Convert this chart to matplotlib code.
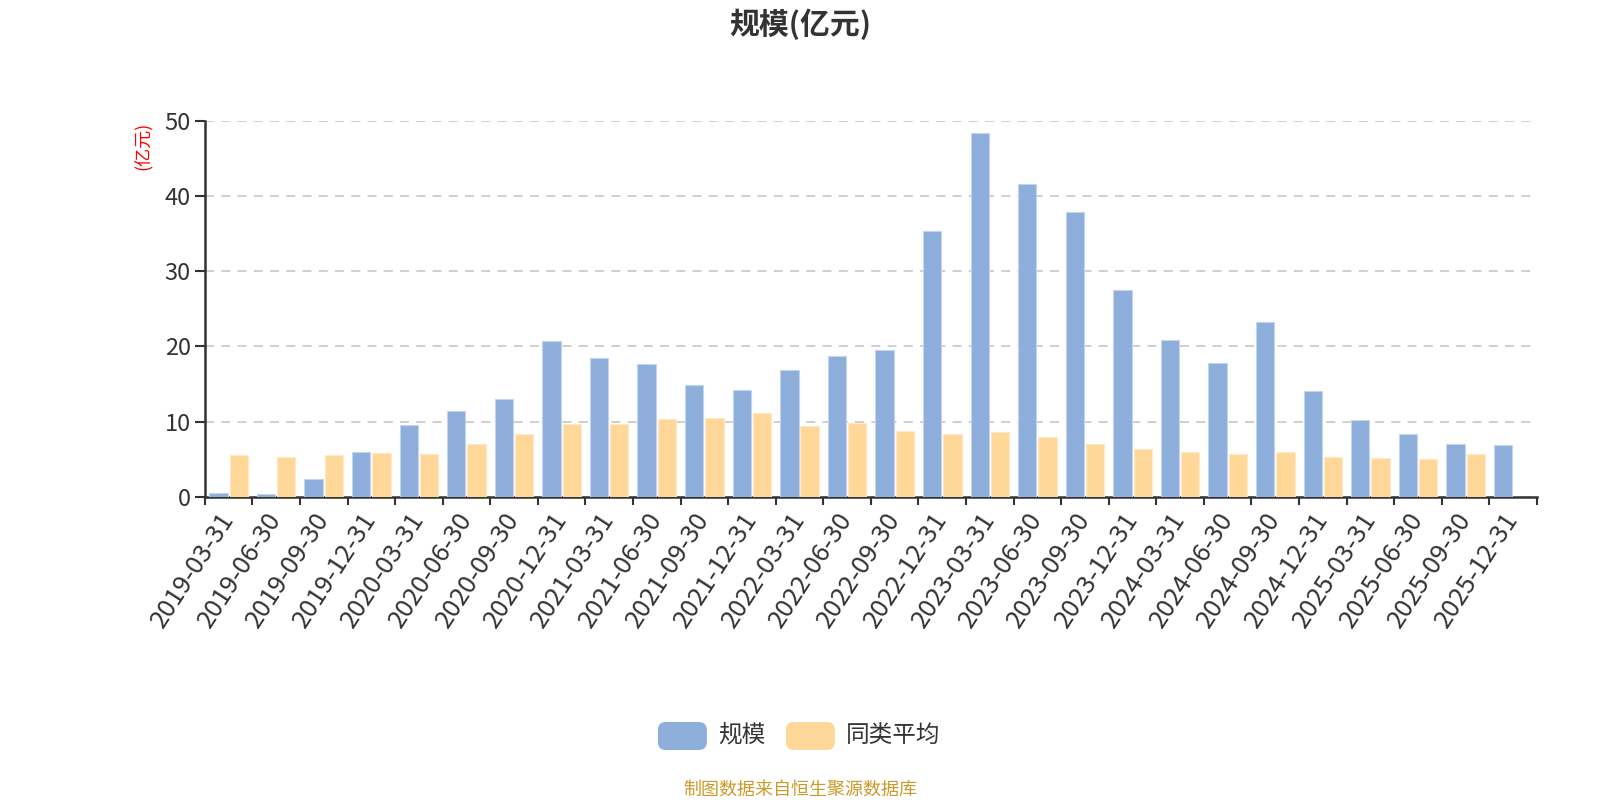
import numpy as np
import matplotlib
matplotlib.use("Agg")
import matplotlib.pyplot as plt
from matplotlib.patches import FancyBboxPatch

plt.rcParams['font.family'] = ['Noto Sans CJK SC', 'DejaVu Sans']

# data
dates = ['2019-03-31', '2019-06-30', '2019-09-30', '2019-12-31',
         '2020-03-31', '2020-06-30', '2020-09-30', '2020-12-31',
         '2021-03-31', '2021-06-30', '2021-09-30', '2021-12-31',
         '2022-03-31', '2022-06-30', '2022-09-30', '2022-12-31',
         '2023-03-31', '2023-06-30', '2023-09-30', '2023-12-31',
         '2024-03-31', '2024-06-30', '2024-09-30', '2024-12-31',
         '2025-03-31', '2025-06-30', '2025-09-30', '2025-12-31']
scale = [0.5, 0.4, 2.4, 6.0, 9.5, 11.4, 13.0, 20.7, 18.4, 17.6, 14.9, 14.2,
         16.8, 18.7, 19.5, 35.3, 48.4, 41.6, 37.9, 27.5, 20.8, 17.8, 23.2,
         14.1, 10.2, 8.4, 7.0, 6.9]
peer_avg = [5.6, 5.3, 5.5, 5.85, 5.7, 7.0, 8.3, 9.7, 9.7, 10.4, 10.5, 11.1,
            9.4, 9.8, 8.7, 8.4, 8.6, 7.9, 7.0, 6.4, 6.0, 5.7, 5.9, 5.3,
            5.1, 5.0, 5.7, np.nan]

blue = '#8eaedb'
yellow = '#ffd899'

fig = plt.figure(figsize=(16, 8), dpi=100)
ax = fig.add_axes([0.128, 0.379, 0.8326, 0.470])

x = np.arange(len(dates))
w = 0.385
ax.bar(x - 0.213, scale, width=w, color=blue, edgecolor='#c3d4ee', linewidth=0.8, zorder=3)
ax.bar(x + 0.213, peer_avg, width=w, color=yellow, edgecolor='#ffe9c4', linewidth=0.8, zorder=3)

ax.set_xlim(-0.5, len(dates) - 0.5)
ax.set_ylim(0, 50)
ax.set_yticks([0, 10, 20, 30, 40, 50])
ax.yaxis.grid(True, linestyle=(0, (5, 4)), color='#cccccc', linewidth=1.3, zorder=0)

# x ticks at category boundaries, labels at centers
ax.set_xticks(np.arange(len(dates) + 1) - 0.5)
ax.set_xticklabels([])
ax.set_xticks(x, minor=True)
ax.set_xticklabels(dates, minor=True, rotation=57, ha='right', va='center',
                   rotation_mode='anchor', fontsize=18.5, color='#333333')
ax.tick_params(axis='x', which='minor', length=0, pad=13)
ax.tick_params(axis='x', which='major', length=6, width=1.5, color='#333333')
ax.tick_params(axis='y', length=7, width=1.5, color='#333333', labelsize=17,
               labelcolor='#333333', pad=3)

for s in ['top', 'right']:
    ax.spines[s].set_visible(False)
for s in ['left', 'bottom']:
    ax.spines[s].set_color('#333333')
    ax.spines[s].set_linewidth(1.8)

fig.text(0.5, 0.969, '规模(亿元)', ha='center', va='center', fontsize=21.5,
         fontweight='bold', color='#333333')
fig.text(0.0892, 0.818, '(亿元)', ha='center', va='center', rotation=90,
         fontsize=13, color='red')

# legend
def legend_item(xc, color, label):
    p = FancyBboxPatch((xc, 0.0625), 0.0306, 0.035,
                       boxstyle='round,pad=0,rounding_size=0.005',
                       transform=fig.transFigure, facecolor=color,
                       edgecolor='none', mutation_aspect=2)
    fig.patches.append(p)
    fig.text(xc + 0.0375, 0.081, label, ha='left', va='center', fontsize=17,
             color='#333333')

legend_item(0.4112, blue, '规模')
legend_item(0.4912, yellow, '同类平均')

fig.text(0.5, 0.0125, '制图数据来自恒生聚源数据库', ha='center', va='center',
         fontsize=13, color='#cc9a2a')

fig.savefig('out.png', dpi=100)
